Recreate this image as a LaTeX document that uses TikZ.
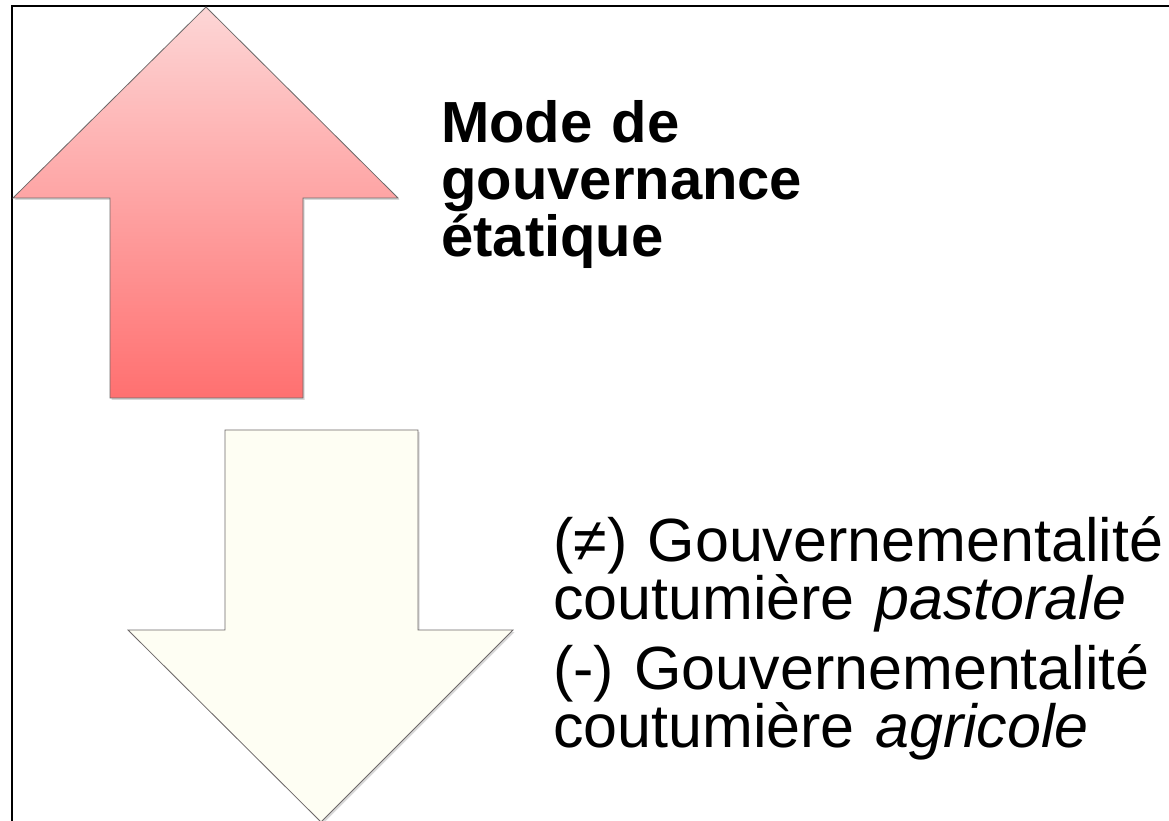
\documentclass[tikz,border=0pt]{standalone}
\usepackage{fontspec}
\setmainfont{Liberation Sans}
\usetikzlibrary{shadows}
\definecolor{uptop}{RGB}{253,214,214}
\definecolor{upbot}{RGB}{255,112,112}
\definecolor{downfill}{RGB}{254,254,243}
\definecolor{edgegray}{RGB}{110,105,105}
\tikzset{
  arrowshape/.style={draw=edgegray, line width=0.8pt, line join=miter,
    drop shadow={shadow xshift=1.5pt, shadow yshift=-2pt, opacity=0.25, fill=black!60}},
  frameline/.style={draw=black, line width=2pt},
  boldtext/.style={inner sep=0pt, anchor=base west, text width=400pt, align=left,
    font=\fontsize{58}{57}\selectfont\bfseries},
  plaintext/.style={inner sep=0pt, anchor=base west, text width=600pt, align=left,
    font=\fontsize{61}{49}\selectfont}
}
\begin{document}
\begin{tikzpicture}[x=1pt,y=1pt]
\useasboundingbox (0,0) rectangle (1169,820);
\clip (0,0) rectangle (1169,820);
\fill[white] (0,0) rectangle (1169,820);
% frame (top and left edges visible)
\draw[frameline] (12,-10) -- (12,814) -- (1180,814);
% up arrow
\path[arrowshape, top color=uptop, bottom color=upbot]
  (206,813) -- (398,622) -- (303,622) -- (303,422) -- (110,422) -- (110,622) -- (13,622) -- cycle;
% down arrow
\path[arrowshape, fill=downfill]
  (225,390) -- (418,390) -- (418,190) -- (513,190) -- (321,-2) -- (128,190) -- (225,190) -- cycle;
% texts
\node[boldtext] (etat) at (441,677) {Mode de\\gouvernance\\étatique};
\node[plaintext] (coutume) at (553,259) {\mbox{(≠) Gouvernementalité}\\\mbox{coutumière \textit{pastorale}}\\[11pt]\mbox{(-) Gouvernementalité}\\\mbox{coutumière \textit{agricole}}};
\end{tikzpicture}
\end{document}
